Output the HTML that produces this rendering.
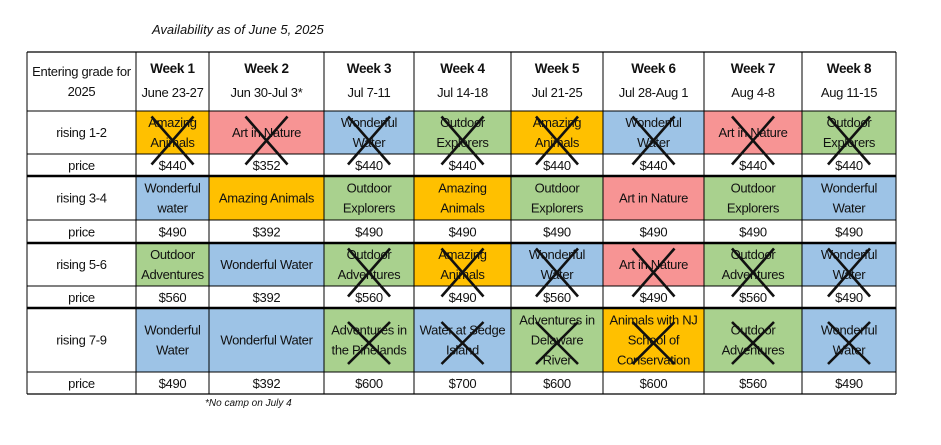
<!DOCTYPE html>
<html><head><meta charset="utf-8">
<style>
html,body{margin:0;padding:0;background:#fff;width:941px;height:445px;overflow:hidden}
#wrap{position:relative;width:941px;height:445px;font-family:"Liberation Sans",sans-serif;color:#111}
.title{position:absolute;left:152px;top:22px;font-size:13px;font-style:italic}
.foot{position:absolute;left:205px;top:398px;font-size:10px;font-style:italic}
svg{position:absolute;left:0;top:0}
</style></head><body>
<div id="wrap">
<div class="title">Availability as of June 5, 2025</div>
<svg id="tbl" width="941" height="445"></svg>
<div class="foot">*No camp on July 4</div>
</div>
<script>
const weeks=["Week 1","Week 2","Week 3","Week 4","Week 5","Week 6","Week 7","Week 8"];
const dates=["June 23-27","Jun 30-Jul 3*","Jul 7-11","Jul 14-18","Jul 21-25","Jul 28-Aug 1","Aug 4-8","Aug 11-15"];
const grades=["rising 1-2","rising 3-4","rising 5-6","rising 7-9"];
const activities=[
 ["Amazing|Animals","Art in Nature","Wonderful|Water","Outdoor|Explorers","Amazing|Animals","Wonderful|Water","Art in Nature","Outdoor|Explorers"],
 ["Wonderful|water","Amazing Animals","Outdoor|Explorers","Amazing|Animals","Outdoor|Explorers","Art in Nature","Outdoor|Explorers","Wonderful|Water"],
 ["Outdoor|Adventures","Wonderful Water","Outdoor|Adventures","Amazing|Animals","Wonderful|Water","Art in Nature","Outdoor|Adventures","Wonderful|Water"],
 ["Wonderful|Water","Wonderful Water","Adventures in|the Pinelands","Water at Sedge|Island","Adventures in|Delaware|River","Animals with NJ|School of|Conservation","Outdoor|Adventures","Wonderful|Water"]];
const colorKeys=[
 ["o","p","b","g","o","b","p","g"],
 ["b","o","g","o","g","p","g","b"],
 ["g","b","g","o","b","p","g","b"],
 ["b","b","g","b","g","o","g","b"]];
const soldOut=[
 [1,1,1,1,1,1,1,1],
 [0,0,0,0,0,0,0,0],
 [0,0,1,1,1,1,1,1],
 [0,0,1,1,1,1,1,1]];
const prices=[
 ["$440","$352","$440","$440","$440","$440","$440","$440"],
 ["$490","$392","$490","$490","$490","$490","$490","$490"],
 ["$560","$392","$560","$490","$560","$490","$560","$490"],
 ["$490","$392","$600","$700","$600","$600","$560","$490"]];

const palette={o:"#FFC000",p:"#F79494",b:"#9DC3E6",g:"#A9D18E"};
const colX=[27,136,209,324,414,511,603,704,802,896];
const headTop=52, headBot=111;
const rowTops=[111,176,243,308];
const rowBots=[154,220,286,372];
const priceBots=[176,243,308,394];
const NS="http://www.w3.org/2000/svg";
const svg=document.getElementById('tbl');
function mk(tag,attrs){const e=document.createElementNS(NS,tag);for(const k in attrs)e.setAttribute(k,attrs[k]);svg.appendChild(e);return e;}
function txt(x,y,s,size,weight,name){
 const t=mk('text',{x:x,y:y,'text-anchor':'middle','font-size':size,'font-weight':weight||'normal','font-family':'Liberation Sans, sans-serif',fill:'#111','letter-spacing':'-0.3'});
 
 
 t.textContent=s;return t;}
function lines(cx,top,bot,str,size,name){
 const parts=str.split('|');const lh=20;const mid=(top+bot)/2;
 const y0=mid-(parts.length-1)*lh/2+size*0.36;
 parts.forEach((p,i)=>txt(cx,y0+i*lh,p,size,'normal',name));
}
// fills
for(let r=0;r<4;r++){for(let c=0;c<8;c++){
 const rc=mk('rect',{x:colX[c+1],y:rowTops[r],width:colX[c+2]-colX[c+1],height:rowBots[r]-rowTops[r],fill:palette[colorKeys[r][c]]});
 
 
}}
// header
lines((colX[0]+colX[1])/2,headTop,headBot,"Entering grade for|2025",13,'grade-header');
for(let c=0;c<8;c++){const cx=(colX[c+1]+colX[c+2])/2;
 txt(cx,73,weeks[c],13.5,'bold','week-header');
 txt(cx,97,dates[c],13,'normal','week-dates');}
for(let r=0;r<4;r++){
 lines((colX[0]+colX[1])/2,rowTops[r],rowBots[r],grades[r],13,'grade-label');
 txt((colX[0]+colX[1])/2,(rowBots[r]+priceBots[r])/2+5,"price",13,'normal','price-label');
 for(let c=0;c<8;c++){const cx=(colX[c+1]+colX[c+2])/2;
  lines(cx,rowTops[r],rowBots[r],activities[r][c],13,'activity-name');
  txt(cx,(rowBots[r]+priceBots[r])/2+5,prices[r][c],13,'normal','price-value');}
}
// grid
const g=[];
g.push([colX[0],headTop,colX[9],headTop,1.2]);
g.push([colX[0],headBot,colX[9],headBot,1]);
for(let r=0;r<4;r++){g.push([colX[0],rowBots[r],colX[9],rowBots[r],1]);
 g.push([colX[0],priceBots[r],colX[9],priceBots[r],r<3?2.5:1.2]);}
colX.forEach(x=>g.push([x,headTop,x,priceBots[3],1]));
g.forEach(l=>{const e=mk('line',{x1:l[0],y1:l[1],x2:l[2],y2:l[3],stroke:'#000','stroke-width':l[4]});
 });
// crosses
for(let r=0;r<4;r++)for(let c=0;c<8;c++){if(!soldOut[r][c])continue;
 const cx=(colX[c+1]+colX[c+2])/2, cy=(rowTops[r]+rowBots[r])/2+(r===3?3:8);
 const w=21,h=(r===3?21:24);
 [[cx-w,cy-h,cx+w,cy+h],[cx+w,cy-h,cx-w,cy+h]].forEach(p=>{
  const e=mk('line',{x1:p[0],y1:p[1],x2:p[2],y2:p[3],stroke:'#111','stroke-width':2.6});
  });
}
</script>
</body></html>
